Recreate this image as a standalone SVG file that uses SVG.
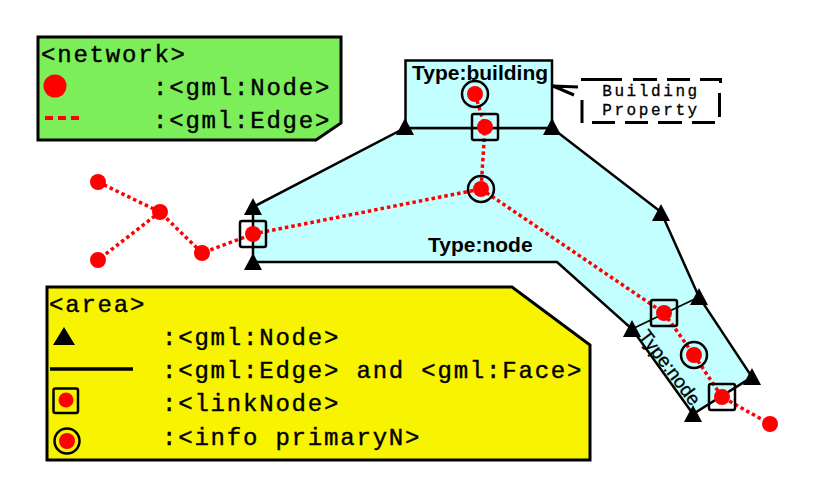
<svg xmlns="http://www.w3.org/2000/svg" width="822" height="480" viewBox="0 0 822 480">
<style>
.mono{font-family:"Liberation Mono","Courier New",monospace;font-size:24px;letter-spacing:1.8px;fill:#000;stroke:#000;stroke-width:.4}
.small{font-family:"Liberation Mono","Courier New",monospace;font-size:16px;letter-spacing:2.600px;fill:#000;stroke:#000;stroke-width:.3;text-anchor:middle}
.type{font-family:"Liberation Sans",Arial,sans-serif;font-weight:bold;font-size:21px;fill:#000}
.rot{font-family:"Liberation Sans",Arial,sans-serif;font-size:19px;fill:#000;stroke:#000;stroke-width:.3}
.area{fill:#c4ffff;stroke:#000;stroke-width:2.5;stroke-linejoin:miter}
.edge{fill:none;stroke:#000;stroke-width:1.8}
.net{fill:none;stroke:#f00;stroke-width:3.5;stroke-dasharray:3.5 3}
.dot{fill:#f00}
.ring{fill:none;stroke:#000;stroke-width:2.5}
.sq{fill:none;stroke:#000;stroke-width:2.5}
.tri{fill:#000}
.dash{fill:none;stroke:#000;stroke-width:3}
</style>
<defs>
<path id="t" class="tri" d="M0-9 L9 8 L-9 8Z"/>
</defs>
<g id="legend-network">
<path d="M38 37H341V123L316 140H38Z" fill="#7cee5a" stroke="#000" stroke-width="3"/>
<text class="mono" x="41" y="62">&lt;network&gt;</text>
<circle class="dot" cx="55" cy="86" r="11.500"/>
<text class="mono" x="153" y="95">:&lt;gml:Node&gt;</text>
<path d="M45 118H79" stroke="#f00" stroke-width="4" stroke-dasharray="8 5" fill="none"/>
<text class="mono" x="153" y="128">:&lt;gml:Edge&gt;</text>
</g>
<g id="legend-area">
<path d="M47 287H512L590 345V460H47Z" fill="#f8f400" stroke="#000" stroke-width="3"/>
<text class="mono" x="49" y="312">&lt;area&gt;</text>
<path class="tri" d="M64 327L75 345H53Z"/>
<text class="mono" x="162" y="345">:&lt;gml:Node&gt;</text>
<path d="M50 369H133" stroke="#000" stroke-width="3.500"/>
<text class="mono" x="162" y="378">:&lt;gml:Edge&gt; and &lt;gml:Face&gt;</text>
<rect x="53.500" y="388.500" width="24.500" height="24.500" rx="2" fill="none" stroke="#000" stroke-width="2.500"/>
<circle class="dot" cx="66" cy="400" r="7.500"/>
<text class="mono" x="162" y="411">:&lt;linkNode&gt;</text>
<circle cx="67" cy="441" r="12.500" fill="none" stroke="#000" stroke-width="2.500"/>
<circle class="dot" cx="67" cy="441" r="8"/>
<text class="mono" x="162" y="445">:&lt;info primaryN&gt;</text>
</g>
<g id="area-node">
<path class="area" d="M253 207L405 128H552L661 212L699 297L752 377L693 414L632 329L557 262H253Z"/>
<path d="M632 329L699 297M253 207V262" class="edge"/>
</g>
<g id="area-building">
<rect class="area" x="405.500" y="60.500" width="146.500" height="67.500"/>
</g>
<g id="connectors">
<path class="net" d="M98 182L160 212L202 253L253 234L481 189L485 127L475 94"/>
<path class="net" d="M160 212L98 260"/>
<path class="net" d="M481 189L664 313L694 355L722 397L770 424"/>
<path d="M553 86L578 87M553 86L574 95" fill="none" stroke="#000" stroke-width="3"/>
</g>
<g id="property">
<path class="dash" d="M581 79.500H622M633 79.500H657M667 79.500H690M700 79.500H720.500V83M719.500 93V117M592 122.500H615M625 122.500H648M658 122.500H682M692 122.500H715M582 100V123"/>
<text class="small" x="651" y="96">Building</text>
<text class="small" x="651" y="114.500">Property</text>
</g>
<g id="area-nodes">
<use href="#t" x="405" y="127"/>
<use href="#t" x="552" y="127"/>
<use href="#t" x="661" y="213"/>
<use href="#t" x="253" y="207"/>
<use href="#t" x="253" y="262"/>
<use href="#t" x="632" y="329"/>
<use href="#t" x="699" y="297"/>
<use href="#t" x="752" y="377"/>
<use href="#t" x="693" y="414"/>
</g>
<g id="network-nodes">
<circle class="dot" cx="98" cy="182" r="8"/>
<circle class="dot" cx="160" cy="212" r="8"/>
<circle class="dot" cx="98" cy="260" r="8"/>
<circle class="dot" cx="202" cy="253" r="8"/>
<circle class="dot" cx="253" cy="234" r="8"/>
<circle class="dot" cx="481" cy="189" r="8"/>
<circle class="dot" cx="485" cy="127" r="8"/>
<circle class="dot" cx="475" cy="94" r="8"/>
<circle class="dot" cx="664" cy="313" r="8"/>
<circle class="dot" cx="694" cy="355" r="8"/>
<circle class="dot" cx="722" cy="397" r="8"/>
<circle class="dot" cx="770" cy="424" r="8"/>
</g>
<g id="link-nodes">
<rect class="sq" x="240" y="221" width="26" height="26" rx="2"/>
<rect class="sq" x="472" y="114" width="26" height="26" rx="2"/>
<rect class="sq" x="651" y="300" width="26" height="26" rx="2"/>
<rect class="sq" x="709" y="384" width="26" height="26" rx="2"/>
</g>
<g id="info-nodes">
<circle class="ring" cx="475" cy="94" r="13"/>
<circle class="ring" cx="481" cy="189" r="13"/>
<circle class="ring" cx="694" cy="355" r="13"/>
</g>
<g id="labels">
<text class="type" x="412" y="80">Type:building</text>
<text class="type" x="428" y="252">Type:node</text>
<text class="rot" transform="translate(638 336) rotate(53)">Type:node</text>
</g>
</svg>
